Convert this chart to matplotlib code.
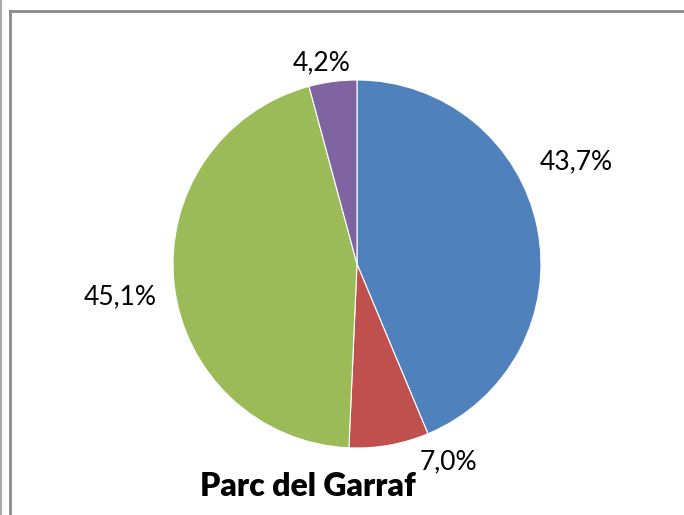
import numpy as np
import matplotlib.pyplot as plt
from matplotlib.lines import Line2D

# slice values (clockwise from 12 o'clock)
values = [43.7, 7.0, 45.1, 4.2]
labels = ["43,7%", "7,0%", "45,1%", "4,2%"]
colors = ["#4F81BD", "#C0504D", "#9BBB59", "#8064A2"]
title = "Parc del Garraf"

plt.rcParams['font.family'] = ['Lato', 'DejaVu Sans']

fig = plt.figure(figsize=(6.84, 5.15), dpi=100)
ax = fig.add_axes([0, 0, 1, 1])

# chart frame (only top and left visible in the crop)
fig.add_artist(Line2D([10 / 684, 10 / 684], [0, 1 - 11 / 515], transform=fig.transFigure,
                      color="#8a8a8a", lw=2))
fig.add_artist(Line2D([10 / 684, 1], [1 - 11 / 515, 1 - 11 / 515], transform=fig.transFigure,
                      color="#8a8a8a", lw=2))
fig.add_artist(Line2D([0.6 / 684, 0.6 / 684], [0, 1], transform=fig.transFigure,
                      color="#9a9a9a", lw=1.2))

cx, cy, r = 357, 515 - 264, 184
wedges, _ = ax.pie(values, colors=colors, startangle=90, counterclock=False,
                   center=(cx, cy), radius=r, frame=True,
                   wedgeprops=dict(edgecolor="white", linewidth=0.8))
ax.set_xlim(0, 684)
ax.set_ylim(0, 515)
ax.set_aspect('equal')
ax.axis('off')

# label placement (angle in degrees, distance in px from centre)
label_pos = [(24.9, 242), (-65.3, 218), (188.0, 239), (99.9, 204)]
for lab, (ang, dist) in zip(labels, label_pos):
    a = np.deg2rad(ang)
    ax.text(cx + dist * np.cos(a), cy + dist * np.sin(a), lab,
            ha='center', va='center', fontsize=19, color='black')

ax.text(308, 515 - 487, title, ha='center', va='center', fontsize=23,
        fontweight='heavy', color='black')

fig.savefig("out.png", dpi=100)
